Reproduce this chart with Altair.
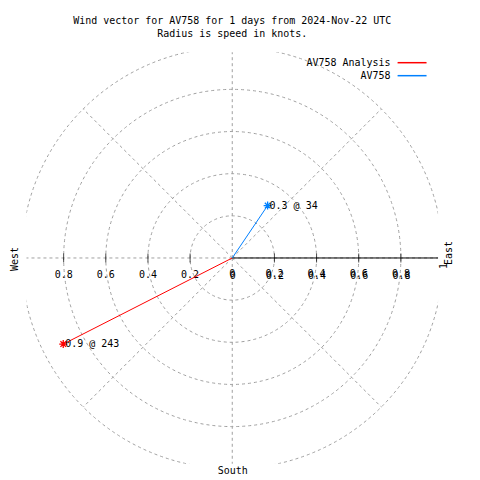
import altair as alt
import pandas as pd

# ---- data ----
series = ["AV758 Analysis", "AV758"]
speeds = [0.9, 0.3]
directions = [243, 34]
colors = ["#ff0000", "#0080ff"]

ring_radii = [0.2, 0.4, 0.6, 0.8, 1.0]
spoke_angles = [0, 45, 90, 135, 180, 225, 270, 315]
left_ticks = [-0.8, -0.6, -0.4, -0.2]
left_tick_labels = ["0.8", "0.6", "0.4", "0.2"]
right_ticks = [0.0, 0.2, 0.4, 0.6, 0.8]
right_tick_labels = ["0", "0.2", "0.4", "0.6", "0.8"]
title_lines = ["Wind vector for AV758 for 1 days from 2024-Nov-22 UTC",
               "Radius is speed in knots."]

FONT = "DejaVu Sans Mono"
FS = 10
GRID = "#a0a0a0"
PX_PER_UNIT = 211
VIEW = 412
HALF = (VIEW / 2) / PX_PER_UNIT

xs = alt.Scale(domain=[-HALF, HALF], nice=False, zero=False)
ys = alt.Scale(domain=[-HALF, HALF], nice=False, zero=False)
color_scale = alt.Scale(domain=series, range=colors)


def X(f):
    return alt.X(f, type="quantitative", scale=xs, axis=None)


def Y(f):
    return alt.Y(f, type="quantitative", scale=ys, axis=None)


rings_df = pd.DataFrame({"r": ring_radii})
spokes_df = pd.DataFrame({"a": spoke_angles})
vec_df = pd.DataFrame({"series": series, "speed": speeds, "dir": directions})
lt_df = pd.DataFrame({"t": left_ticks, "label": left_tick_labels})
rt_df = pd.DataFrame({"t": right_ticks, "label": right_tick_labels})
ticks_df = pd.DataFrame({"t": left_ticks + right_ticks[1:]})
one_df = pd.DataFrame({"k": [1]})

rings = alt.Chart(rings_df).transform_calculate(o="0").mark_point(
    shape="circle", filled=False, clip=True, color=GRID, opacity=1,
    strokeWidth=1, strokeDash=[3, 3]
).encode(
    x=X("o"), y=Y("o"),
    size=alt.Size("r:Q", scale=alt.Scale(type="pow", exponent=2, domain=[0, 1],
                                         range=[0, (2 * PX_PER_UNIT) ** 2]), legend=None),
)

spokes = alt.Chart(spokes_df).transform_calculate(
    o="0", ex="sin(datum.a*PI/180)", ey="cos(datum.a*PI/180)"
).mark_rule(clip=True, color=GRID, strokeWidth=1, strokeDash=[3, 3]).encode(
    x=X("o"), y=Y("o"), x2="ex:Q", y2="ey:Q"
)

axis_line = alt.Chart(one_df).transform_calculate(o="0").mark_rule(
    color="black", strokeWidth=1
).encode(x=X("o"), x2=alt.value(VIEW), y=Y("o"))

ticks = alt.Chart(ticks_df).transform_calculate(o="0").mark_tick(
    orient="vertical", size=9, thickness=1, color="black"
).encode(x=X("t"), y=Y("o"))

lt_labels = alt.Chart(lt_df).transform_calculate(o="0").mark_text(
    font=FONT, fontSize=FS, dy=17, baseline="middle", color="black"
).encode(x=X("t"), y=Y("o"), text="label:N")
rt_labels_a = alt.Chart(rt_df).transform_calculate(o="0").mark_text(
    font=FONT, fontSize=FS, dy=16.5, baseline="middle", color="black"
).encode(x=X("t"), y=Y("o"), text="label:N")
rt_labels_b = alt.Chart(rt_df).transform_calculate(o="0").mark_text(
    font=FONT, fontSize=FS, dy=18, dx=0.5, baseline="middle", color="black"
).encode(x=X("t"), y=Y("o"), text="label:N")

vec_base = alt.Chart(vec_df).transform_calculate(
    o="0",
    vx="datum.speed*sin(datum.dir*PI/180)",
    vy="datum.speed*cos(datum.dir*PI/180)",
    lab="format(datum.speed, '.1f') + ' @ ' + datum.dir",
)
vectors = vec_base.mark_rule(strokeWidth=1).encode(
    x=X("o"), y=Y("o"), x2="vx:Q", y2="vy:Q",
    color=alt.Color("series:N", scale=color_scale, legend=None),
)
stars = vec_base.mark_point(
    shape="M-1,0L1,0M0,-1L0,1M-0.7,-0.7L0.7,0.7M-0.7,0.7L0.7,-0.7",
    filled=False, opacity=1, strokeWidth=1.3, size=64
).encode(
    x=X("vx"), y=Y("vy"),
    color=alt.Color("series:N", scale=color_scale, legend=None),
)
vec_labels = vec_base.mark_text(
    font=FONT, fontSize=FS, align="left", dx=2, baseline="middle", color="black"
).encode(x=X("vx"), y=Y("vy"), text="lab:N")

layers = [rings, spokes, axis_line, ticks, lt_labels, rt_labels_a, rt_labels_b,
          vectors, stars, vec_labels]

# legend (gnuplot style: text right, sample line)
for i, (s, c) in enumerate(zip(series, colors)):
    yy = 11 + 13 * i
    layers.append(alt.Chart(pd.DataFrame({"s": [s]})).mark_text(
        font=FONT, fontSize=FS, align="right", baseline="middle", color="black"
    ).encode(x=alt.value(364.5), y=alt.value(yy), text="s:N"))
    layers.append(alt.Chart(one_df).mark_rule(color=c, strokeWidth=1.5).encode(
        x=alt.value(371.5), x2=alt.value(400.5), y=alt.value(yy - 0.5)))

# compass labels
compass = [("West", -11.5, 207, 270), ("East", 422.5, 201, 270),
           ("1", 417.5, 214, 270), ("South", 206.5, 419, 0)]
for txt, px, py, ang in compass:
    layers.append(alt.Chart(pd.DataFrame({"s": [txt]})).mark_text(
        font=FONT, fontSize=FS, angle=ang, baseline="middle", align="center", color="black"
    ).encode(x=alt.value(px), y=alt.value(py), text="s:N"))

chart = alt.layer(*layers).properties(
    width=VIEW, height=VIEW,
    title=alt.Title(title_lines, font=FONT, fontSize=FS, fontWeight="normal", color="black",
                    anchor="middle", frame="group", offset=3, lineHeight=13, baseline="bottom"),
    autosize=alt.AutoSizeParams(type="none"),
    padding={"left": 18.5, "top": 44, "right": 34, "bottom": 12},
).configure(background="white").configure_view(stroke=None)

chart.save("out.html", embed_options={"renderer": "svg", "actions": False})
